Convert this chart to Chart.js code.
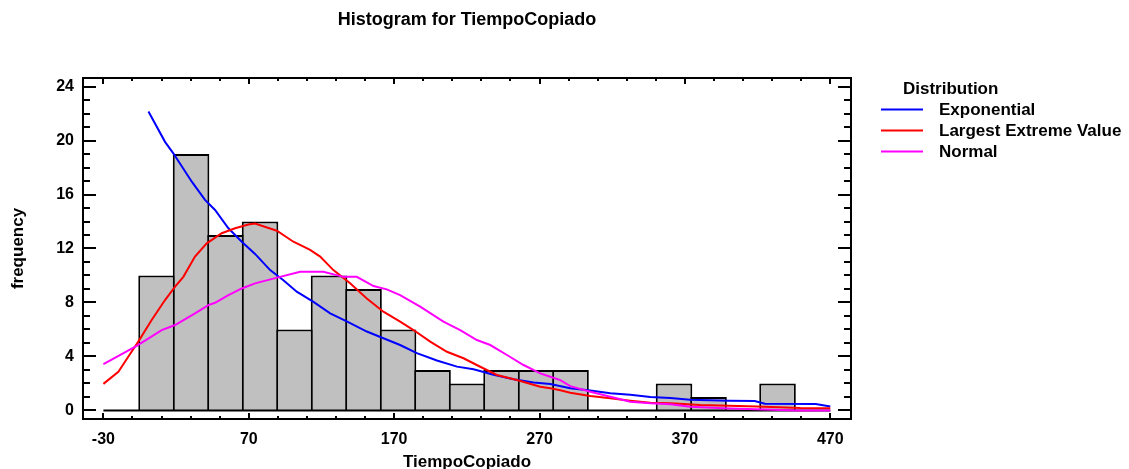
<!DOCTYPE html>
<html lang="es">
<head>
<meta charset="UTF-8" />
<title>Histogram for TiempoCopiado</title>
<script src="https://cdn.jsdelivr.net/npm/chart.js"></script>
<style>
  html, body { margin: 0; padding: 0; background: #fff; }
  #wrap { width: 1129px; height: 469px; }
</style>
</head>
<body>
<div id="wrap"><canvas id="histChart" width="1129" height="469"></canvas></div>
<script>
// histogram bins
const binStart = -5.3;
const binWidth = 23.73;
const binCounts = [10, 19, 13, 14, 6, 10, 9, 6, 3, 2, 3, 3, 3, 0, 0, 2, 1, 0, 2];

// fitted densities, scaled to frequency
const expX = [1, 12.4, 18.1, 30.8, 39.9, 46.8, 56, 65.2, 74.3, 84.7, 93.8, 103, 114.5, 126, 137.4, 151.2, 162.6,
  174.1, 185.6, 199.4, 213.2, 224.6, 238.3, 252.1, 265.9, 277.4, 291.1, 304.9, 318.7, 332.4, 346.2, 360, 373.7,
  400, 418, 425, 460, 470];
const expY = [22.15, 19.9, 19.05, 16.95, 15.6, 14.85, 13.5, 12.5, 11.6, 10.4, 9.65, 8.8, 8.05, 7.2, 6.6, 5.85, 5.35,
  4.85, 4.25, 3.7, 3.25, 3.05, 2.65, 2.32, 2.08, 1.97, 1.65, 1.48, 1.28, 1.16, 1.0, 0.92, 0.8,
  0.72, 0.7, 0.5, 0.48, 0.3];

const levX = [-30, -19.7, -12.9, -6, 3.2, 12.4, 19.3, 25, 33, 41.1, 51.4, 60.6, 69.7, 74.3, 89.3, 100.7, 112.2,
  119.1, 128.2, 139.7, 151.2, 162.6, 174.1, 183.3, 194.8, 206.3, 217.7, 229.2, 240.7, 254.4, 270.5, 277.4, 284.3,
  291.1, 304.9, 318.7, 332.4, 346.2, 360, 380.6, 419.6, 449.4, 470];
const levY = [1.97, 2.87, 3.98, 5.1, 6.7, 8.18, 9.17, 9.9, 11.4, 12.38, 13.13, 13.5, 13.78, 13.85, 13.32, 12.5, 11.9,
  11.4, 10.4, 9.42, 8.3, 7.32, 6.58, 5.96, 5.1, 4.35, 3.87, 3.24, 2.63, 2.26, 1.76, 1.64, 1.5,
  1.32, 1.07, 0.9, 0.73, 0.58, 0.53, 0.41, 0.3, 0.18, 0.17];

const normX = [-30, -17.4, -7.1, 10.1, 19.3, 33, 42.2, 46.8, 56, 65.2, 74.3, 91.5, 105.3, 121.3, 135.1, 144.3,
  155.8, 164.9, 174.1, 187.9, 203.9, 215.4, 226.9, 236.1, 247.6, 259, 270.5, 277.4, 284.3, 291.1, 304.9, 318.7,
  332.4, 346.2, 360, 373.7, 396.6, 447.1, 470];
const normY = [3.44, 4.18, 4.78, 5.96, 6.33, 7.2, 7.81, 7.98, 8.55, 9.04, 9.42, 9.9, 10.28, 10.28, 9.9, 9.9,
  9.22, 8.97, 8.55, 7.69, 6.58, 5.96, 5.22, 4.85, 4.11, 3.37, 2.75, 2.5, 2.25, 1.8, 1.39, 1.02,
  0.65, 0.53, 0.46, 0.28, 0.16, 0.0, 0.0];

// axes
const xTicks = [-30, 70, 170, 270, 370, 470];
const yTicks = [0, 4, 8, 12, 16, 20, 24];
const xMinorStep = 20;
const yMinorStep = 1;

const chartTitle = 'Histogram for TiempoCopiado';
const legendTitle = 'Distribution';
const FONT = "'Liberation Sans', Arial, sans-serif";

function pts(xs, ys) {
  return xs.map((v, i) => ({ x: v, y: ys[i] }));
}

// boxed frame with inward ticks on all four sides, plus title and legend
const decorPlugin = {
  id: 'decor',
  afterDatasetsDraw(chart) {
    const { ctx, chartArea: a, scales: { x, y } } = chart;
    ctx.save();
    ctx.strokeStyle = '#000';
    ctx.lineWidth = 2;
    ctx.strokeRect(a.left, a.top, a.right - a.left, a.bottom - a.top);
    ctx.beginPath();
    const x0 = xTicks[0], x1 = xTicks[xTicks.length - 1];
    for (let v = x0; v <= x1 + 0.001; v += xMinorStep) {
      const px = Math.round(x.getPixelForValue(v));
      const len = xTicks.includes(v) ? 6 : 3;
      ctx.moveTo(px, a.bottom); ctx.lineTo(px, a.bottom - len);
      ctx.moveTo(px, a.top); ctx.lineTo(px, a.top + len);
    }
    const y0 = yTicks[0], y1 = yTicks[yTicks.length - 1];
    for (let v = y0; v <= y1 + 0.001; v += yMinorStep) {
      const py = Math.round(y.getPixelForValue(v));
      const len = yTicks.includes(v) ? 13 : 7;
      ctx.moveTo(a.left, py); ctx.lineTo(a.left + len, py);
      ctx.moveTo(a.right, py); ctx.lineTo(a.right - len, py);
    }
    ctx.stroke();
    ctx.restore();
  },
  afterDraw(chart) {
    const { ctx, chartArea: a } = chart;
    ctx.save();
    ctx.fillStyle = '#000';
    ctx.textBaseline = 'middle';
    ctx.textAlign = 'center';
    ctx.font = `bold 18px ${FONT}`;
    ctx.fillText(chartTitle, (a.left + a.right) / 2, 20.5);

    const lx = a.right + 30;
    ctx.textAlign = 'left';
    ctx.font = `bold 17px ${FONT}`;
    ctx.fillText(legendTitle, lx + 22, 89);
    chart.data.datasets.filter(d => d.inLegend).forEach((d, i) => {
      const ly = 109.5 + i * 21;
      ctx.strokeStyle = d.borderColor;
      ctx.lineWidth = 2;
      ctx.beginPath();
      ctx.moveTo(lx, ly);
      ctx.lineTo(lx + 42, ly);
      ctx.stroke();
      ctx.fillText(d.label, lx + 58, ly + 1);
    });
    ctx.restore();
  }
};

const curve = (label, xs, ys, color, order) => ({
  type: 'line',
  label: label,
  inLegend: true,
  data: pts(xs, ys),
  borderColor: color,
  borderWidth: 2,
  pointRadius: 0,
  tension: 0,
  order: order
});

new Chart(document.getElementById('histChart'), {
  type: 'bar',
  data: {
    datasets: [
      curve('Exponential', expX, expY, '#0000ff', 2),
      curve('Largest Extreme Value', levX, levY, '#ff0000', 1),
      curve('Normal', normX, normY, '#ff00ff', 0),
      {
        // zero line under the bins
        type: 'line',
        label: 'base',
        data: pts([xTicks[0], xTicks[xTicks.length - 1]], [0, 0]),
        borderColor: '#000',
        borderWidth: 2,
        pointRadius: 0,
        order: 3
      },
      {
        type: 'bar',
        label: 'frequency',
        data: binCounts.map((c, i) => ({ x: binStart + (i + 0.5) * binWidth, y: c })),
        backgroundColor: '#c0c0c0',
        borderColor: '#000',
        borderWidth: 2,
        barPercentage: 1.06,
        categoryPercentage: 1,
        order: 4
      }
    ]
  },
  options: {
    responsive: false,
    animation: false,
    events: [],
    layout: { padding: { top: 78, right: 278, bottom: 0, left: 0 } },
    plugins: { legend: { display: false }, tooltip: { enabled: false }, title: { display: false } },
    scales: {
      x: {
        type: 'linear',
        offset: false,
        min: -44.03,
        max: 484.24,
        grid: { display: false, drawTicks: false },
        border: { display: false },
        afterBuildTicks: s => { s.ticks = xTicks.map(v => ({ value: v })); },
        afterFit: s => { s.height = 50; },
        ticks: { color: '#000', padding: 11, maxRotation: 0, autoSkip: false,
          font: { family: FONT, size: 16, weight: 'bold' } },
        title: { display: true, text: 'TiempoCopiado', color: '#000', padding: { top: 0, bottom: 0 },
          font: { family: FONT, size: 17, weight: 'bold', lineHeight: 0.8 } }
      },
      y: {
        min: -0.63,
        max: 24.63,
        grid: { display: false, drawTicks: false },
        border: { display: false },
        afterBuildTicks: s => { s.ticks = yTicks.map(v => ({ value: v })); },
        afterFit: s => { s.width = 83; },
        ticks: { color: '#000', padding: 9, autoSkip: false,
          font: { family: FONT, size: 16, weight: 'bold' } },
        title: { display: true, text: 'frequency', color: '#000', padding: { top: 10, bottom: 0 },
          font: { family: FONT, size: 17, weight: 'bold', lineHeight: 1 } }
      }
    }
  },
  plugins: [decorPlugin]
});
</script>
</body>
</html>
